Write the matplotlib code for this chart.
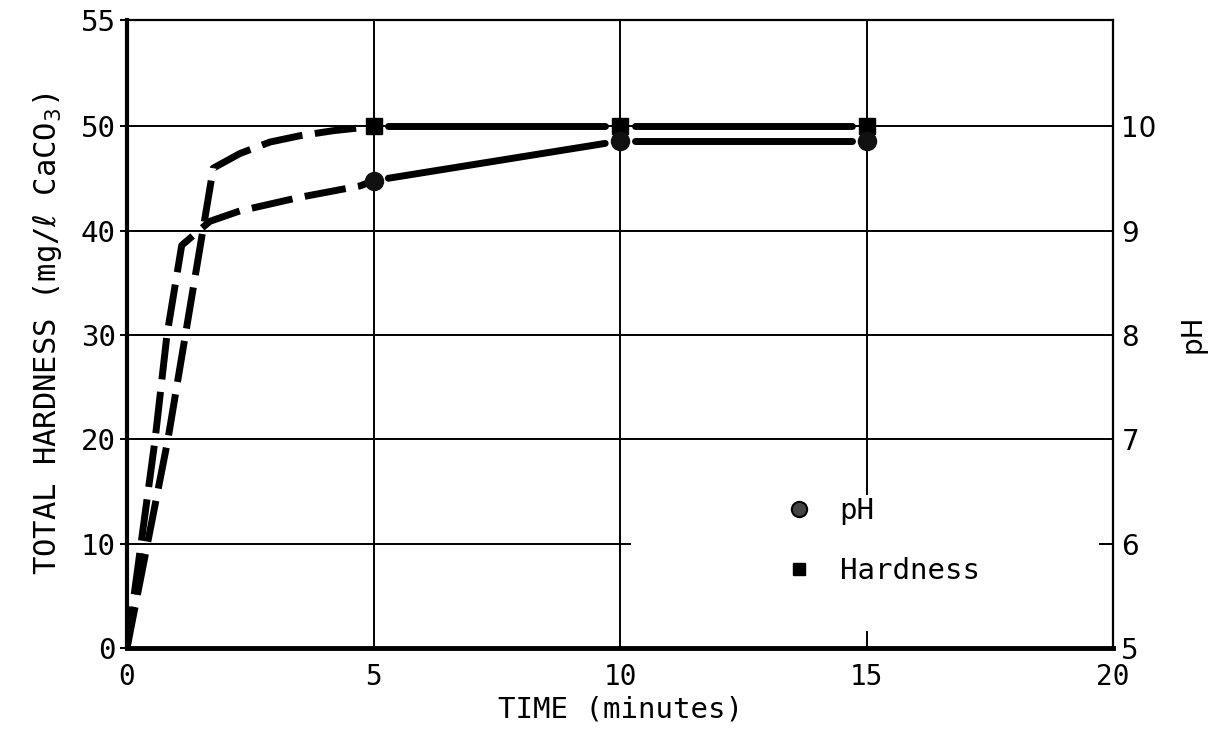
import numpy as np
import matplotlib
matplotlib.use("Agg")
import matplotlib.pyplot as plt
from matplotlib.lines import Line2D

# Measured points
time_pts = [5, 10, 15]
hardness_pts = [50, 50, 50]
ph_pts = [9.48, 9.86, 9.86]

# Hand-faired early curves (0 to 5 minutes)
hard_curve_t = [0, 0.83, 1.75, 2.29, 2.9, 3.5, 4.2, 5]
hard_curve_v = [0, 20, 46, 47.4, 48.5, 49.1, 49.6, 50]
ph_curve_t = [0, 0.57, 0.81, 1.11, 1.68, 2.29, 3.5, 4.73, 5]
ph_curve_v = [5, 7, 8, 8.86, 9.09, 9.19, 9.32, 9.43, 9.48]

x_ticks = [0, 5, 10, 15, 20]
left_ticks = [0, 10, 20, 30, 40, 50, 60.2]
left_labels = ["0", "10", "20", "30", "40", "50", "55"]
right_ticks = [5, 6, 7, 8, 9, 10]

mono = ["DejaVu Sans Mono", "DejaVu Sans"]

fig = plt.figure(figsize=(12.16, 7.38), dpi=100)
ax = fig.add_axes([127 / 1216, 1 - 648 / 738, (1113 - 127) / 1216, (648 - 20) / 738])
ax.set_xlim(0, 20)
ax.set_ylim(0, 60.2)
ax2 = ax.twinx()
ax2.set_ylim(5, 11.02)

# Grid lines
for x in [5, 10]:
    ax.axvline(x, color="black", lw=1.4, zorder=1)
ax.axvline(15, ymin=0.245, ymax=1, color="black", lw=1.4, zorder=1)
ax.axvline(15, ymin=0, ymax=0.026, color="black", lw=1.4, zorder=1)
for y in [20, 30, 40, 50]:
    ax.axhline(y, color="black", lw=1.4, zorder=1)
ax.axhline(10, xmin=0, xmax=0.51, color="black", lw=1.4, zorder=1)
ax.axhline(10, xmin=0.987, xmax=1, color="black", lw=1.4, zorder=1)

dash = (6.0, 1.8)
# Early dashed curves
ax.plot(hard_curve_t, hard_curve_v, color="black", lw=5, dashes=dash,
        dash_capstyle="butt", zorder=3)
ax2.plot(ph_curve_t, ph_curve_v, color="black", lw=5, dashes=dash,
         dash_capstyle="butt", zorder=3)


def connect(axis, t, v, gap=0.3):
    for i in range(len(t) - 1):
        a, b = t[i] + gap, t[i + 1] - gap
        xs = [a, b]
        ys = np.interp(xs, t, v)
        axis.plot(xs, ys, color="black", lw=5, solid_capstyle="round", zorder=3)


connect(ax, time_pts, hardness_pts)
connect(ax2, time_pts, ph_pts)

ax.plot(time_pts, hardness_pts, "s", color="black", ms=12, zorder=4)
ax2.plot(time_pts, ph_pts, "o", color="#111111", ms=13, zorder=4)

# Spines
for sp, w in [("left", 3.0), ("bottom", 3.5), ("top", 1.6), ("right", 1.6)]:
    ax.spines[sp].set_linewidth(w)
for sp in ax2.spines.values():
    sp.set_visible(False)

ax.set_xticks(x_ticks)
ax.set_xticklabels([str(v) for v in x_ticks], family=mono, fontsize=20)
ax.set_yticks(left_ticks)
ax.set_yticklabels(left_labels, family=mono, fontsize=21)
ax.tick_params(axis="x", length=0, pad=11)
ax.tick_params(axis="y", length=5, width=1.4, direction="out", pad=3)
ax2.set_yticks(right_ticks)
ax2.set_yticklabels([str(v) for v in right_ticks], family="DejaVu Sans", fontsize=20)
ax2.tick_params(axis="y", length=0, pad=6)

ax.set_xlabel("TIME (minutes)", family=mono, fontsize=21, labelpad=3)
ax.set_ylabel(r"TOTAL HARDNESS (mg/$\ell$ CaCO$_3$)", family=mono, fontsize=22, labelpad=12)
ax2.set_ylabel("pH", family="DejaVu Sans", fontsize=20, labelpad=16)

handles = [
    Line2D([], [], ls="none", marker="o", ms=11, mfc="#444444", mec="black", mew=1.5),
    Line2D([], [], ls="none", marker="s", ms=9, color="black"),
]
leg = ax.legend(handles, ["pH", "Hardness"], loc="center left",
                bbox_to_anchor=(0.64, 0.17), frameon=False,
                prop={"family": mono, "size": 21}, handlelength=1.0,
                handletextpad=0.9, labelspacing=1.1)

fig.savefig("out.png", dpi=100)
